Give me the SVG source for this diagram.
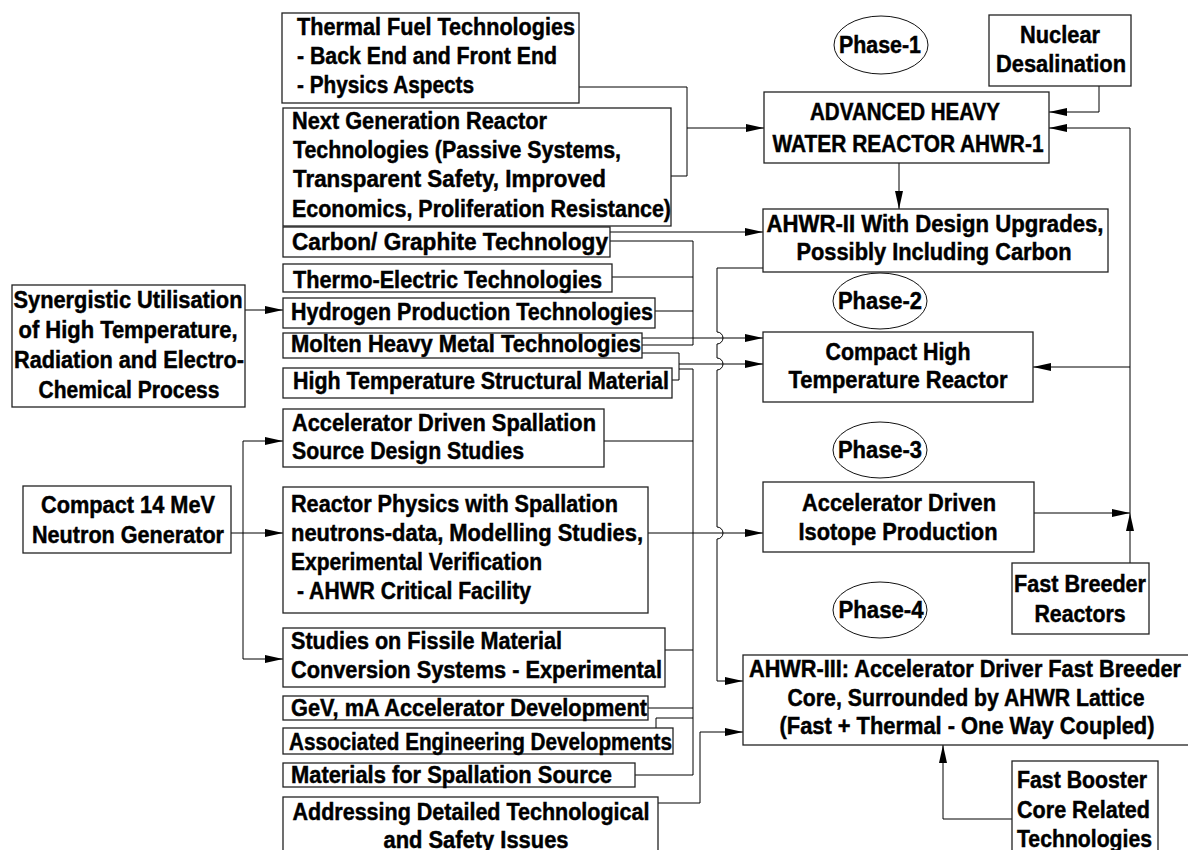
<svg xmlns="http://www.w3.org/2000/svg" width="1188" height="850" viewBox="0 0 1188 850">
  <style>
    .box { fill: #fff; stroke: #222; stroke-width: 1.3; }
    .ph { fill: #fff; stroke: #111; stroke-width: 1; }
    .t { font-family: "Liberation Sans", Arial, sans-serif; font-weight: bold; font-size: 23px; fill: #000; stroke: #000; stroke-width: 0.45; }
    .m { text-anchor: middle; }
    .w { fill: none; stroke: #000; stroke-width: 1; }
    .a { marker-end: url(#ah); }
  </style>
  <defs>
    <marker id="ah" markerWidth="18" markerHeight="8" refX="18" refY="4" orient="auto" markerUnits="userSpaceOnUse">
      <path d="M0,0 L18,4 L0,8 z" fill="#000"/>
    </marker>
  </defs>

  <rect width="1188" height="850" fill="#fff"/>

  <!-- connectors -->
  <g id="connectors">
    <!-- thermal fuel + next generation feed AHWR-1 -->
    <path class="w" d="M579,87 H687 V176 H671"/>
    <path class="w a" d="M687,128 H764"/>
    <!-- desalination -->
    <path class="w a" d="M1099,86 V112 H1049"/>
    <!-- right-hand return bus -->
    <path class="w a" d="M1130,513 V128 H1049"/>
    <path class="w a" d="M1130,367 H1033"/>
    <!-- AHWR-1 to AHWR-II -->
    <path class="w a" d="M899,163 V209"/>
    <!-- carbon to AHWR-II -->
    <path class="w a" d="M610,232 H763"/>
    <!-- upper collector bus -->
    <path class="w" d="M610,241 H693 V345 H642"/>
    <path class="w" d="M612,277 H693"/>
    <path class="w" d="M655,311 H693"/>
    <!-- molten metal / high temperature to compact reactor -->
    <path class="w a" d="M642,338 H763"/>
    <path class="w" d="M642,353 H679 V380 H672"/>
    <path class="w a" d="M679,364 H763"/>
    <!-- lower collector bus -->
    <path class="w" d="M679,369 H693 V775 H635"/>
    <path class="w" d="M604,441 H693"/>
    <path class="w" d="M665,650 H693"/>
    <path class="w" d="M648,708 H693"/>
    <path class="w" d="M656,728 V718 H693"/>
    <!-- synergistic utilisation -->
    <path class="w a" d="M245,310 H283"/>
    <!-- 14 MeV neutron generator fan-out -->
    <path class="w a" d="M231,533 H283"/>
    <path class="w a" d="M243,533 V441 H283"/>
    <path class="w a" d="M243,533 V659 H283"/>
    <!-- reactor physics to isotope production -->
    <path class="w a" d="M648,533 H763"/>
    <!-- AHWR-II down to AHWR-III, hopping over crossings -->
    <path class="w a" d="M763,268 H717 V332 a6,6 0 0 1 0,12 V358 a6,6 0 0 1 0,12 V527 a6,6 0 0 1 0,12 V681 H743"/>
    <!-- technological issues to AHWR-III -->
    <path class="w a" d="M658,803 H700 V732 H743"/>
    <!-- isotope production and fast breeder to bus -->
    <path class="w a" d="M1034,513 H1130"/>
    <path class="w a" d="M1130,563 V513"/>
    <!-- fast booster up to AHWR-III -->
    <path class="w a" d="M1012,819 H943 V745"/>
  </g>

  <g id="thermal-fuel">
    <rect class="box" x="282" y="13" width="297" height="90"/>
    <text class="t" x="297" y="35" textLength="278" lengthAdjust="spacingAndGlyphs">Thermal Fuel Technologies</text>
    <text class="t" x="297" y="64" textLength="260" lengthAdjust="spacingAndGlyphs">- Back End and Front End</text>
    <text class="t" x="297" y="93" textLength="177" lengthAdjust="spacingAndGlyphs">- Physics Aspects</text>
  </g>

  <g id="next-generation">
    <rect class="box" x="283" y="108" width="388" height="118"/>
    <text class="t" x="292" y="129" textLength="255" lengthAdjust="spacingAndGlyphs">Next Generation Reactor</text>
    <text class="t" x="293" y="158" textLength="328" lengthAdjust="spacingAndGlyphs">Technologies (Passive Systems,</text>
    <text class="t" x="293" y="187" textLength="313" lengthAdjust="spacingAndGlyphs">Transparent Safety, Improved</text>
    <text class="t" x="292" y="217" textLength="379" lengthAdjust="spacingAndGlyphs">Economics, Proliferation Resistance)</text>
  </g>

  <g id="carbon-graphite">
    <rect class="box" x="283" y="227" width="327" height="30"/>
    <text class="t" x="292" y="250" textLength="316" lengthAdjust="spacingAndGlyphs">Carbon/ Graphite Technology</text>
  </g>

  <g id="thermo-electric">
    <rect class="box" x="283" y="264" width="329" height="28"/>
    <text class="t" x="293" y="288" textLength="309" lengthAdjust="spacingAndGlyphs">Thermo-Electric Technologies</text>
  </g>

  <g id="hydrogen">
    <rect class="box" x="283" y="298" width="372" height="30"/>
    <text class="t" x="291" y="320" textLength="362" lengthAdjust="spacingAndGlyphs">Hydrogen Production Technologies</text>
  </g>

  <g id="molten-metal">
    <rect class="box" x="283" y="333" width="359" height="25"/>
    <text class="t" x="291" y="352" textLength="350" lengthAdjust="spacingAndGlyphs">Molten Heavy Metal Technologies</text>
  </g>

  <g id="high-temp-material">
    <rect class="box" x="283" y="368" width="389" height="30"/>
    <text class="t" x="293" y="389" textLength="376" lengthAdjust="spacingAndGlyphs">High Temperature Structural Material</text>
  </g>

  <g id="spallation-design">
    <rect class="box" x="283" y="409" width="321" height="58"/>
    <text class="t" x="292" y="431" textLength="304" lengthAdjust="spacingAndGlyphs">Accelerator Driven Spallation</text>
    <text class="t" x="292" y="459" textLength="232" lengthAdjust="spacingAndGlyphs">Source Design Studies</text>
  </g>

  <g id="reactor-physics">
    <rect class="box" x="283" y="487" width="365" height="126"/>
    <text class="t" x="291" y="512" textLength="327" lengthAdjust="spacingAndGlyphs">Reactor Physics with Spallation</text>
    <text class="t" x="291" y="541" textLength="352" lengthAdjust="spacingAndGlyphs">neutrons-data, Modelling Studies,</text>
    <text class="t" x="291" y="570" textLength="251" lengthAdjust="spacingAndGlyphs">Experimental Verification</text>
    <text class="t" x="297" y="599" textLength="234" lengthAdjust="spacingAndGlyphs">- AHWR Critical Facility</text>
  </g>

  <g id="fissile-conversion">
    <rect class="box" x="283" y="628" width="382" height="59"/>
    <text class="t" x="291" y="649" textLength="271" lengthAdjust="spacingAndGlyphs">Studies on Fissile Material</text>
    <text class="t" x="291" y="678" textLength="371" lengthAdjust="spacingAndGlyphs">Conversion Systems - Experimental</text>
  </g>

  <g id="gev-accelerator">
    <rect class="box" x="283" y="696" width="365" height="24"/>
    <text class="t" x="291" y="716" textLength="356" lengthAdjust="spacingAndGlyphs">GeV, mA Accelerator Development</text>
  </g>

  <g id="associated-engineering">
    <rect class="box" x="283" y="728" width="390" height="26"/>
    <text class="t" x="289" y="750" textLength="383" lengthAdjust="spacingAndGlyphs">Associated Engineering Developments</text>
  </g>

  <g id="spallation-materials">
    <rect class="box" x="283" y="763" width="352" height="24"/>
    <text class="t" x="291" y="783" textLength="321" lengthAdjust="spacingAndGlyphs">Materials for Spallation Source</text>
  </g>

  <g id="safety-issues">
    <rect class="box" x="283" y="797" width="375" height="70"/>
    <text class="t m" x="471" y="820" textLength="357" lengthAdjust="spacingAndGlyphs">Addressing Detailed Technological</text>
    <text class="t m" x="476" y="848" textLength="185" lengthAdjust="spacingAndGlyphs">and Safety Issues</text>
  </g>

  <g id="synergistic">
    <rect class="box" x="12" y="285" width="233" height="122"/>
    <text class="t m" x="128" y="308" textLength="229" lengthAdjust="spacingAndGlyphs">Synergistic Utilisation</text>
    <text class="t m" x="128" y="338" textLength="219" lengthAdjust="spacingAndGlyphs">of High Temperature,</text>
    <text class="t m" x="129" y="368" textLength="230" lengthAdjust="spacingAndGlyphs">Radiation and Electro-</text>
    <text class="t m" x="129" y="398" textLength="181" lengthAdjust="spacingAndGlyphs">Chemical Process</text>
  </g>

  <g id="neutron-generator">
    <rect class="box" x="23" y="486" width="208" height="67"/>
    <text class="t m" x="128" y="513" textLength="174" lengthAdjust="spacingAndGlyphs">Compact 14 MeV</text>
    <text class="t m" x="128" y="543" textLength="192" lengthAdjust="spacingAndGlyphs">Neutron Generator</text>
  </g>

  <g id="phase-1">
    <ellipse class="ph" cx="881" cy="45" rx="47" ry="29"/>
    <text class="t m" x="880" y="53" textLength="82" lengthAdjust="spacingAndGlyphs">Phase-1</text>
  </g>

  <g id="desalination">
    <rect class="box" x="989" y="15" width="142" height="71"/>
    <text class="t m" x="1060" y="43" textLength="80" lengthAdjust="spacingAndGlyphs">Nuclear</text>
    <text class="t m" x="1061" y="72" textLength="130" lengthAdjust="spacingAndGlyphs">Desalination</text>
  </g>

  <g id="ahwr-1">
    <rect class="box" x="764" y="92" width="285" height="71"/>
    <text class="t m" x="905" y="120" textLength="190" lengthAdjust="spacingAndGlyphs">ADVANCED HEAVY</text>
    <text class="t m" x="908" y="152" textLength="271" lengthAdjust="spacingAndGlyphs">WATER REACTOR AHWR-1</text>
  </g>

  <g id="ahwr-2">
    <rect class="box" x="763" y="209" width="345" height="63"/>
    <text class="t m" x="935" y="232" textLength="337" lengthAdjust="spacingAndGlyphs">AHWR-II With Design Upgrades,</text>
    <text class="t m" x="934" y="260" textLength="275" lengthAdjust="spacingAndGlyphs">Possibly Including  Carbon</text>
  </g>

  <g id="phase-2">
    <ellipse class="ph" cx="880" cy="301" rx="47" ry="28"/>
    <text class="t m" x="880" y="309" textLength="84" lengthAdjust="spacingAndGlyphs">Phase-2</text>
  </g>

  <g id="compact-htr">
    <rect class="box" x="763" y="332" width="270" height="70"/>
    <text class="t m" x="898" y="360" textLength="145" lengthAdjust="spacingAndGlyphs">Compact High</text>
    <text class="t m" x="898" y="388" textLength="219" lengthAdjust="spacingAndGlyphs">Temperature Reactor</text>
  </g>

  <g id="phase-3">
    <ellipse class="ph" cx="880" cy="450" rx="47" ry="28"/>
    <text class="t m" x="880" y="458" textLength="84" lengthAdjust="spacingAndGlyphs">Phase-3</text>
  </g>

  <g id="isotope-production">
    <rect class="box" x="763" y="482" width="271" height="70"/>
    <text class="t m" x="899" y="511" textLength="194" lengthAdjust="spacingAndGlyphs">Accelerator Driven</text>
    <text class="t m" x="898" y="540" textLength="199" lengthAdjust="spacingAndGlyphs">Isotope Production</text>
  </g>

  <g id="fast-breeder">
    <rect class="box" x="1012" y="563" width="137" height="71"/>
    <text class="t m" x="1080" y="592" textLength="132" lengthAdjust="spacingAndGlyphs">Fast Breeder</text>
    <text class="t m" x="1080" y="622" textLength="91" lengthAdjust="spacingAndGlyphs">Reactors</text>
  </g>

  <g id="phase-4">
    <ellipse class="ph" cx="880" cy="610" rx="47" ry="28"/>
    <text class="t m" x="881" y="618" textLength="85" lengthAdjust="spacingAndGlyphs">Phase-4</text>
  </g>

  <g id="ahwr-3">
    <rect class="box" x="743" y="655" width="450" height="90"/>
    <text class="t m" x="965" y="677" textLength="432" lengthAdjust="spacingAndGlyphs">AHWR-III: Accelerator Driver Fast Breeder</text>
    <text class="t m" x="966" y="706" textLength="357" lengthAdjust="spacingAndGlyphs">Core, Surrounded by AHWR Lattice</text>
    <text class="t m" x="967" y="734" textLength="375" lengthAdjust="spacingAndGlyphs">(Fast + Thermal - One Way Coupled)</text>
  </g>

  <g id="fast-booster">
    <rect class="box" x="1012" y="761" width="146" height="100"/>
    <text class="t" x="1017" y="788" textLength="130" lengthAdjust="spacingAndGlyphs">Fast Booster</text>
    <text class="t" x="1017" y="818" textLength="133" lengthAdjust="spacingAndGlyphs">Core Related</text>
    <text class="t" x="1017" y="847" textLength="135" lengthAdjust="spacingAndGlyphs">Technologies</text>
  </g>
</svg>
